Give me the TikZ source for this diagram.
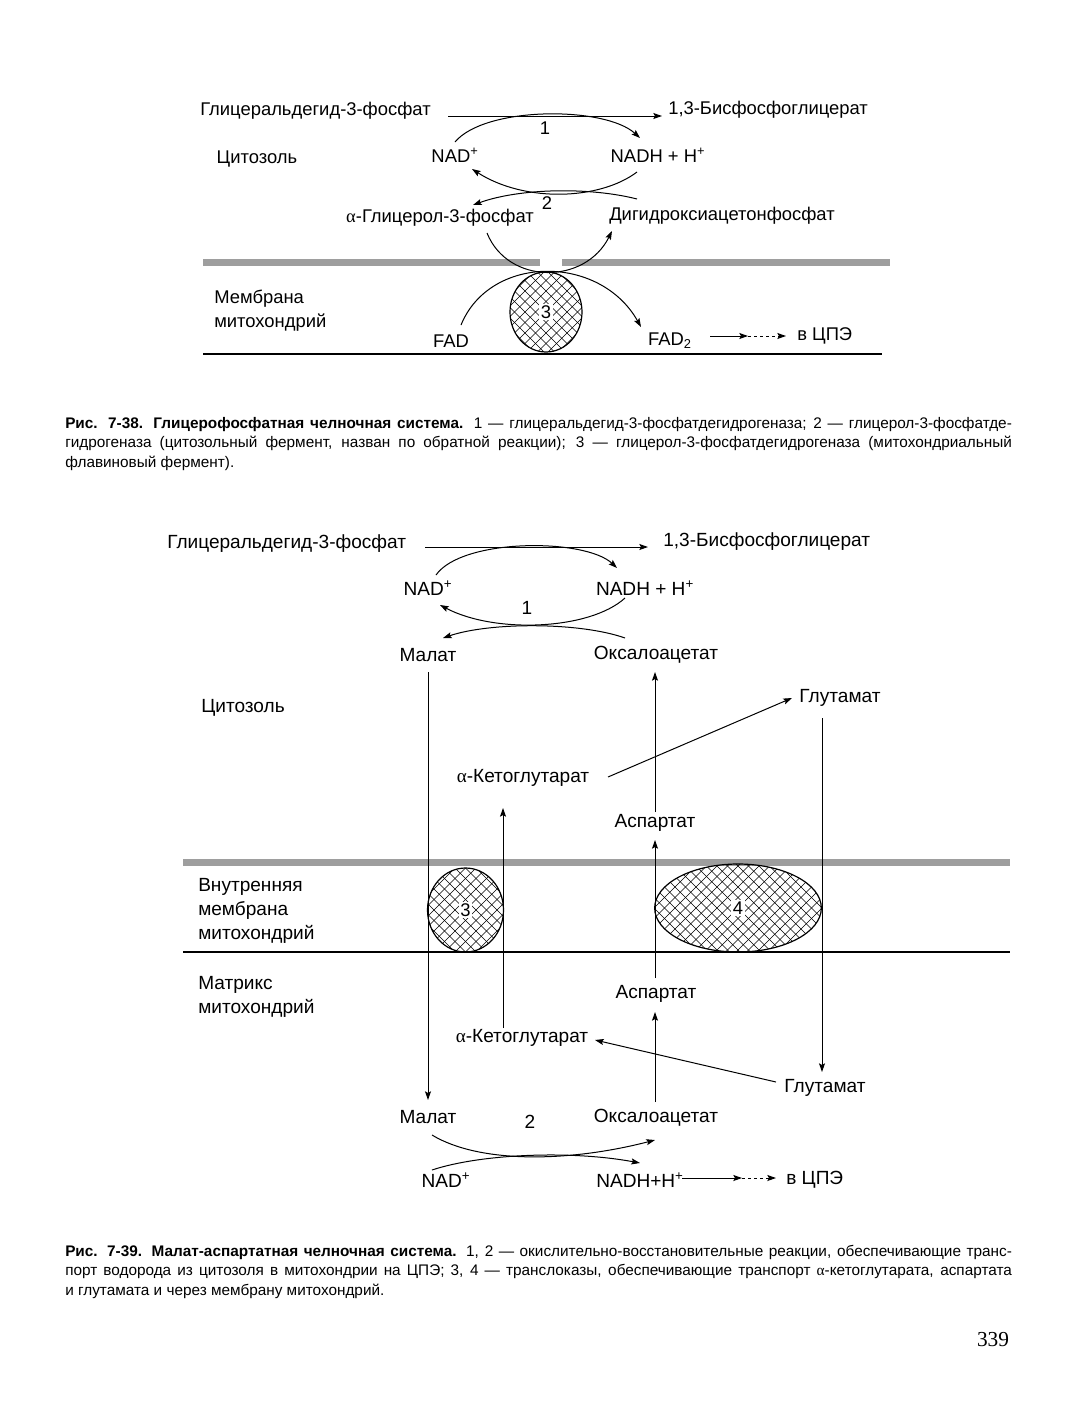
\documentclass[tikz,border=0pt]{standalone}
\usepackage{fontspec}
\setmainfont{Liberation Sans}
\newfontfamily\labfont{Liberation Sans}
\newfontfamily\capfont{Liberation Sans}
\newfontfamily\numfont{Liberation Serif}
\usetikzlibrary{arrows.meta,shapes.geometric}
\newcommand{\alf}{{\numfont α}}
\tikzset{
  lab/.style={font=\labfont\fontsize{13.8}{18}\selectfont, inner sep=1.5pt, align=left},
  labb/.style={font=\labfont\fontsize{14.3}{18}\selectfont, inner sep=1.5pt, align=left},
  conn/.style={line width=0.75pt},
  arr/.style={conn, -{Stealth[length=6.5pt,width=4.5pt,inset=1.2pt]}},
  dasharr/.style={arr, dash pattern=on 2.5pt off 2pt},
  band/.style={fill=black!38},
  enzyme/.style={draw, line width=0.9pt, ellipse, inner sep=0pt,
    path picture={
      \foreach \k in {-16,...,16} {
        \draw[line width=0.5pt, shift={(path picture bounding box.center)}]
          (\k*10.5-120,-120) -- ++(240,240);
        \draw[line width=0.5pt, shift={(path picture bounding box.center)}]
          (\k*10.5-120,120) -- ++(240,-240);
      }
    }},
  enzlab/.style={fill=white, inner sep=1.2pt, font=\labfont\fontsize{13.8}{16}\selectfont},
  capt/.style={anchor=north west, inner sep=0pt, text width=710pt, align=justify,
    font=\capfont\fontsize{11.5}{14.5}\selectfont}
}
\begin{document}
\begin{tikzpicture}[x=0.75pt,y=-0.75pt]
\fill[white] (0,0) rectangle (1077,1411);
\useasboundingbox (0,0) rectangle (1077,1411);

% ================= Figure 7-38 =================
\node[lab,anchor=west] (gapA) at (198,111) {Глицеральдегид-3-фосфат};
\node[lab,anchor=west] (bpgA) at (666,110) {1,3-Бисфосфоглицерат};
\node[lab] (cytA) at (257,159) {Цитозоль};
\node[lab] (nadA) at (455,155) {NAD\textsuperscript{+}};
\node[lab] (nadhA) at (658,155) {NADH + H\textsuperscript{+}};
\node[lab] (oneA) at (545,128) {1};
\node[lab] (twoA) at (547,203) {2};
\node[lab] (g3p) at (440,218) {\alf-Глицерол-3-фосфат};
\node[lab] (dhap) at (722,216) {Дигидроксиацетонфосфат};
\node[lab,anchor=west] (memA) at (212,311) {Мембрана\\митохондрий};
\node[lab] (fad) at (451,341) {FAD};
\node[lab] (fad2) at (670,341) {FAD\textsubscript{2}};
\node[lab,anchor=west] (etcA) at (795,336) {в ЦПЭ};

\fill[band] (203,259) rectangle (540,266);
\fill[band] (562,259) rectangle (890,266);
\draw[line width=0.9pt] (203,354) -- (882,354);

\node[enzyme, minimum width=54pt, minimum height=60pt] (enzA) at (546,312) {};
\node[enzlab] (enzAl) at (enzA.center) {3};

\coordinate (hAs) at (448,116);
\coordinate (hAe) at (662,116);
\draw[arr] (hAs) -- (hAe);
\coordinate (c1s) at (455,142);
\coordinate (c1e) at (640,138);
\draw[arr] (c1s) .. controls (485,106) and (605,106) .. (c1e);
\coordinate (c2s) at (637,172);
\coordinate (c2e) at (472,169);
\draw[arr] (c2s) .. controls (600,200) and (525,203) .. (c2e);
\coordinate (c3s) at (637,199);
\coordinate (c3e) at (473,205);
\draw[arr] (c3s) .. controls (590,187) and (520,188) .. (c3e);
\coordinate (uS) at (487,233);
\coordinate (uE) at (612,231);
\draw[arr] (uS) .. controls (508,285) and (585,285) .. (uE);
\coordinate (aS) at (461,325);
\coordinate (aE) at (641,327);
\draw[arr] (aS) .. controls (490,254) and (600,254) .. (aE);
\coordinate (eA1) at (710,336);
\coordinate (eA2) at (748,336);
\coordinate (eA3) at (786,336);
\draw[arr] (eA1) -- (eA2);
\draw[dasharr] (eA2) -- (eA3);

\node[capt] (capA) at (65,417) {\textbf{Рис. 7-38. Глицерофосфатная челночная система.} 1 — глицеральдегид-3-фосфатдегидрогеназа; 2 — глицерол-3-фосфатде-\linebreak гидрогеназа (цитозольный фермент, назван по обратной реакции); 3 — глицерол-3-фосфатдегидрогеназа (митохондриальный\linebreak флавиновый фермент).};

% ================= Figure 7-39 =================
\node[labb,anchor=west] (gapB) at (165,544) {Глицеральдегид-3-фосфат};
\node[labb,anchor=west] (bpgB) at (661,542) {1,3-Бисфосфоглицерат};
\node[labb] (nadB) at (428,588) {NAD\textsuperscript{+}};
\node[labb] (nadhB) at (645,588) {NADH + H\textsuperscript{+}};
\node[labb] (oneB) at (527,608) {1};
\node[labb] (malB) at (428,655) {Малат};
\node[labb] (oxaB) at (656,655) {Оксалоацетат};
\node[labb] (cytB) at (243,708) {Цитозоль};
\node[labb] (gluB) at (840,698) {Глутамат};
\node[labb] (akgB) at (523,778) {\alf-Кетоглутарат};
\node[labb] (aspB) at (655,823) {Аспартат};
\node[labb,anchor=west] (memB) at (196,911) {Внутренняя\\мембрана\\митохондрий};
\node[labb,anchor=west] (matB) at (196,997) {Матрикс\\митохондрий};
\node[labb] (aspC) at (656,994) {Аспартат};
\node[labb] (akgC) at (522,1038) {\alf-Кетоглутарат};
\node[labb] (gluC) at (825,1088) {Глутамат};
\node[labb] (malC) at (428,1117) {Малат};
\node[labb] (twoB) at (530,1122) {2};
\node[labb] (oxaC) at (656,1118) {Оксалоацетат};
\node[labb] (nadC) at (446,1180) {NAD\textsuperscript{+}};
\node[labb] (nadhC) at (640,1180) {NADH+H\textsuperscript{+}};
\node[labb,anchor=west] (etcB) at (784,1180) {в ЦПЭ};

\fill[band] (183,859) rectangle (1010,866);
\draw[line width=1.1pt] (183,952) -- (1010,952);

\node[enzyme, minimum width=57pt, minimum height=63pt] (enzB) at (465.5,910) {};
\node[enzlab] (enzBl) at (enzB.center) {3};
\node[enzyme, minimum width=125pt, minimum height=66pt] (enzC) at (738,908) {};
\node[enzlab] (enzCl) at (enzC.center) {4};

\coordinate (hBs) at (425,547);
\coordinate (hBe) at (648,547);
\draw[arr] (hBs) -- (hBe);
\coordinate (d1s) at (436,575);
\coordinate (d1e) at (617,568);
\draw[arr] (d1s) .. controls (462,538) and (585,538) .. (d1e);
\coordinate (d2s) at (625,598);
\coordinate (d2e) at (440,605);
\draw[arr] (d2s) .. controls (590,630) and (495,634) .. (d2e);
\coordinate (d3s) at (625,638);
\coordinate (d3e) at (443,638);
\draw[arr] (d3s) .. controls (580,622) and (490,622) .. (d3e);

\draw[arr] (428,672) -- (428,1100);
\draw[arr] (655,812) -- (655,672);
\draw[arr] (608,777) -- (792,698);
\draw[arr] (822,718) -- (822,1072);
\draw[arr] (503,1028) -- (503,808);
\draw[arr] (655,978) -- (655,840);
\draw[arr] (655,1102) -- (655,1012);
\draw[arr] (776,1082) -- (595,1040);

\coordinate (m1s) at (432,1135);
\coordinate (m1e) at (655,1140);
\draw[arr] (m1s) .. controls (480,1164) and (570,1162) .. (m1e);
\coordinate (m2s) at (432,1170);
\coordinate (m2e) at (640,1163);
\draw[arr] (m2s) .. controls (480,1154) and (570,1150) .. (m2e);
\coordinate (eB1) at (682,1178);
\coordinate (eB2) at (742,1178);
\coordinate (eB3) at (776,1178);
\draw[arr] (eB1) -- (eB2);
\draw[dasharr] (eB2) -- (eB3);

\node[capt] (capB) at (65,1245) {\textbf{Рис. 7-39. Малат-аспартатная челночная система.} 1, 2 — окислительно-восстановительные реакции, обеспечивающие транс-\linebreak порт водорода из цитозоля в митохондрии на ЦПЭ; 3, 4 — транслоказы, обеспечивающие транспорт \alf-кетоглутарата, аспартата\linebreak и глутамата и через мембрану митохондрий.};

\node[font=\numfont\fontsize{16}{18}\selectfont, inner sep=0pt] (page) at (993,1340) {339};
\end{tikzpicture}
\end{document}
